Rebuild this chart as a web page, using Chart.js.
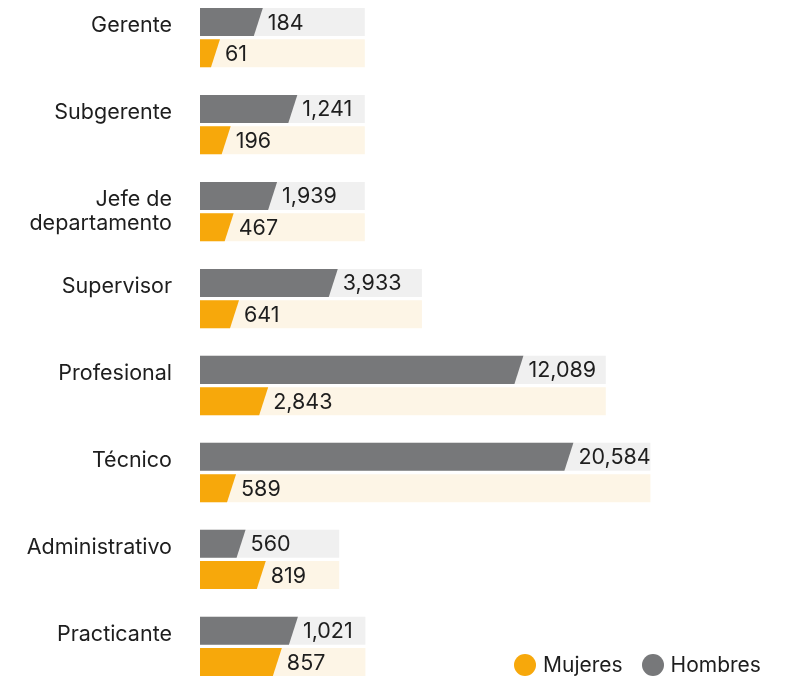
<!DOCTYPE html>
<html>
<head>
<meta charset="utf-8">
<script src="https://cdn.jsdelivr.net/npm/chart.js@4"></script>
<style>
  html, body { margin: 0; padding: 0; background: #ffffff; }
  #wrap { position: relative; width: 795px; height: 677px; }
  #legend { position: absolute; left: 514px; top: 654px; display: flex; align-items: center;
            font-family: Inter, sans-serif; font-size: 21px; color: #1e1e1e; line-height: 22px; }
  .item { display: flex; align-items: center; margin-right: 19px; }
  .dot { width: 22px; height: 22px; border-radius: 50%; margin-right: 7px; }
</style>
</head>
<body>
<div id="wrap">
  <canvas id="c" width="795" height="677"></canvas>
  <div id="legend"></div>
</div>
<script>
// ---- data ----
const categories = ['Gerente', 'Subgerente', 'Jefe de departamento', 'Supervisor',
                    'Profesional', 'Técnico', 'Administrativo', 'Practicante'];
// counts shown as value labels
const hombres = [184, 1241, 1939, 3933, 12089, 20584, 560, 1021];
const mujeres = [61, 196, 467, 641, 2843, 589, 819, 857];
// bar lengths as drawn in the picture (relative units, 0-100 of the track scale)
const hombresLength = [9.8, 15.6, 12.2, 22.4, 53.6, 62.0, 6.9, 15.7];
const mujeresLength = [2.6, 4.4, 4.9, 5.8, 10.7, 5.3, 10.3, 13.0];
// light background track behind each pair of bars (same relative units)
const trackLength = [27.7, 27.7, 27.7, 37.3, 68.2, 75.7, 23.4, 27.8];
const wrappedLabels = { 'Jefe de departamento': ['Jefe de', 'departamento'] };

// ---- styles ----
const GRAY = '#77787a', ORANGE = '#f7a80b', TRACK_GRAY = '#f0f0f0', TRACK_CREAM = '#fdf5e6';
const TEXT = '#1e1e1e';
const FONT = 'Inter, sans-serif';
const SLANT = 9;

const slantPlugin = {
  id: 'slantBars',
  beforeDatasetDraw(chart, args) {
    const ds = chart.data.datasets[args.index];
    if (!ds.slanted) return;
    const ctx = chart.ctx;
    const half = SLANT / 2;
    ctx.save();
    ctx.fillStyle = ds.backgroundColor;
    args.meta.data.forEach((el) => {
      const { x, y, base, height } = el.getProps(['x', 'y', 'base', 'height'], true);
      const top = y - height / 2, bottom = y + height / 2;
      ctx.beginPath();
      ctx.moveTo(base, top);
      ctx.lineTo(x + half, top);
      ctx.lineTo(x - half, bottom);
      ctx.lineTo(base, bottom);
      ctx.closePath();
      ctx.fill();
    });
    ctx.font = '21.5px ' + FONT;
    ctx.fillStyle = TEXT;
    ctx.textAlign = 'left';
    ctx.textBaseline = 'middle';
    args.meta.data.forEach((el, i) => {
      const { x, y } = el.getProps(['x', 'y'], true);
      ctx.fillText(ds.counts[i].toLocaleString('en-US'), x + half + 5, y + 1);
    });
    ctx.restore();
    return false;
  }
};

function draw() {
  Chart.defaults.font.family = FONT;
  const chart = new Chart(document.getElementById('c'), {
    type: 'bar',
    data: {
      labels: categories,
      datasets: [
        { label: 'Hombres', data: hombresLength, counts: hombres, backgroundColor: GRAY,
          stack: 'h', order: 1, slanted: true, clip: false },
        { label: 'Mujeres', data: mujeresLength, counts: mujeres, backgroundColor: ORANGE,
          stack: 'm', order: 1, slanted: true, clip: false },
        { label: 'trackH', data: trackLength, backgroundColor: TRACK_GRAY,
          stack: 'h', order: 2, clip: false },
        { label: 'trackM', data: trackLength, backgroundColor: TRACK_CREAM,
          stack: 'm', order: 2, clip: false }
      ]
    },
    options: {
      indexAxis: 'y',
      responsive: false,
      devicePixelRatio: 1,
      animation: false,
      events: [],
      categoryPercentage: 0.72,
      barPercentage: 0.895,
      layout: { padding: { top: 37.7, bottom: 30.6, left: 0, right: 0 } },
      scales: {
        x: { display: false, min: 0, max: 100, stacked: false },
        y: {
          type: 'category',
          offset: false,
          grid: { display: false, drawTicks: false },
          border: { display: false },
          afterFit: (scale) => {
            scale.width = 200;
            scale.paddingTop = 0;
            scale.paddingBottom = 0;
          },
          ticks: {
            autoSkip: false,
            padding: 28,
            color: TEXT,
            font: { size: 21.5, lineHeight: 1.12 },
            callback(value) {
              const lbl = this.getLabelForValue(value);
              return wrappedLabels[lbl] || [lbl, ''];
            }
          }
        }
      },
      plugins: { legend: { display: false }, tooltip: { enabled: false } }
    },
    plugins: [slantPlugin]
  });

  // HTML legend built from the chart's own datasets (Mujeres first)
  const legend = document.getElementById('legend');
  chart.data.datasets.filter(d => d.slanted).reverse().forEach(d => {
    const item = document.createElement('div');
    item.className = 'item';
    const dot = document.createElement('span');
    dot.className = 'dot';
    dot.style.background = d.backgroundColor;
    const txt = document.createElement('span');
    txt.textContent = d.label;
    item.appendChild(dot); item.appendChild(txt);
    legend.appendChild(item);
  });
}

if (document.fonts && document.fonts.load) {
  document.fonts.load('21px Inter').then(draw, draw);
} else { draw(); }
</script>
</body>
</html>
